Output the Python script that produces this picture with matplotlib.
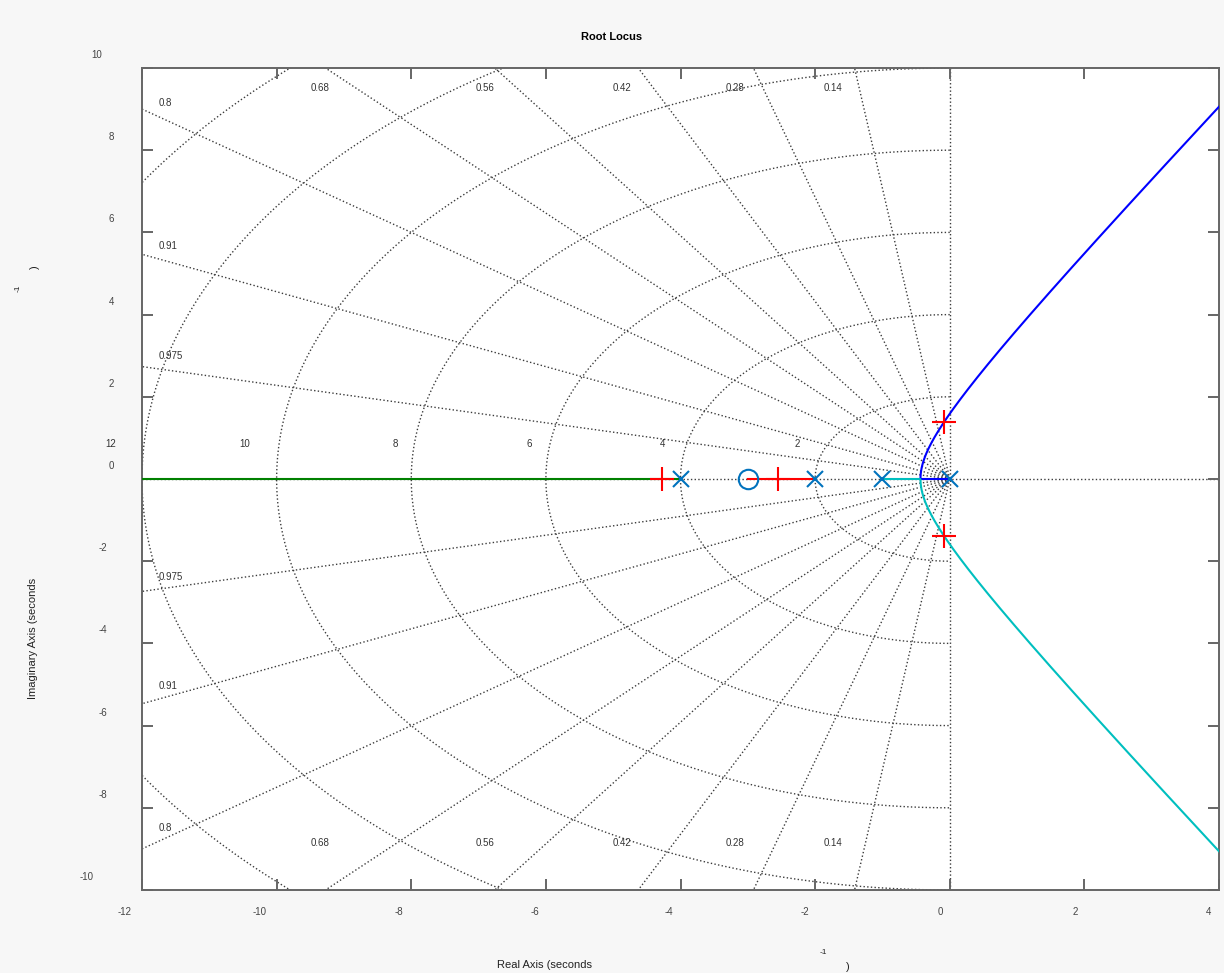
import numpy as np
import matplotlib
matplotlib.use("Agg")
import matplotlib.pyplot as plt
from matplotlib.transforms import ScaledTranslation

plt.rcParams['font.family'] = ['Liberation Sans', 'DejaVu Sans']

# open-loop system G(s) = (s+3) / (s (s+1) (s+2) (s+4))
poles = [0.0, -1.0, -2.0, -4.0]
zeros = [-3.0]
k_marked = 7.0   # gain shown with the red crosses

# s-plane grid
zeta_vals = [0.14, 0.28, 0.42, 0.56, 0.68, 0.8, 0.91, 0.975]
wn_vals = [2, 4, 6, 8, 10, 12, 14]
wn_label_pos = [(-2.27, 2), (-4.26, 4), (-6.25, 6), (-8.24, 8), (-10.48, 10), (-12.46, 12)]
zeta_top = [(-9.36, "0.68"), (-6.90, "0.56"), (-4.87, "0.42"), (-3.19, "0.28"), (-1.73, "0.14")]
zeta_left_up = [(9.15, "0.8"), (5.67, "0.91"), (2.99, "0.975")]
zeta_left_dn = [(-8.49, "0.8"), (-5.04, "0.91"), (-2.38, "0.975")]

xticks = [-12, -10, -8, -6, -4, -2, 0, 2, 4]
xtick_dx = [-17, -17, -12, -11, -12, -10, -9, -9, -10]
yticks = [-10, -8, -6, -4, -2, 0, 2, 4, 6, 8, 10]
ytick_cx = [87, 103, 103, 103, 103, 111.5, 111.5, 111.5, 111.5, 111.5, 97]

branch_colors = ['#0000ff', '#00bfbf', '#ff0000', '#008000']


def char_poly(k):
    den = np.poly(poles)
    num = np.poly(zeros)
    num = np.concatenate([np.zeros(len(den) - len(num)), num])
    return den + k * num


def branches_at(k):
    r = np.roots(char_poly(k))
    cplx = r[np.abs(r.imag) > 1e-7]
    real = np.sort(r[np.abs(r.imag) <= 1e-7].real)[::-1]
    if len(cplx) == 0:
        return [complex(v) for v in real]
    up = cplx[cplx.imag > 0][0]
    return [up, np.conj(up)] + [complex(v) for v in real]


gains = np.unique(np.concatenate([np.linspace(0, 1, 3000), np.logspace(0, 5, 4000)]))
locus = np.array([branches_at(k) for k in gains])

fig = plt.figure(figsize=(12.24, 9.73), dpi=100, facecolor='#f7f7f7')
ax = fig.add_axes([142 / 1224, 83 / 973, 1077 / 1224, 822 / 973])
ax.set_facecolor('white')
ax.set_xlim(-12, 4)
ax.set_ylim(-10, 10)

gkw = dict(color='#3c3c3c', linestyle=':', linewidth=1.0, zorder=1)
for z in zeta_vals:
    a = np.sqrt(1 - z ** 2)
    ax.plot([0, -40 * z], [0, 40 * a], **gkw)
    ax.plot([0, -40 * z], [0, -40 * a], **gkw)
ax.axhline(0, **gkw)
ax.axvline(0, **gkw)
th = np.linspace(np.pi / 2, 3 * np.pi / 2, 400)
for wn in wn_vals:
    ax.plot(wn * np.cos(th), wn * np.sin(th), **gkw)

lkw = dict(fontsize=7, color='#333333', ha='center', va='center', clip_on=False)
for x, w in wn_label_pos:
    ax.text(x, 0.85, str(w), **lkw)
for x, s in zeta_top:
    ax.text(x, 9.51, s, **lkw)
    ax.text(x, -8.86, s, **lkw)
for y, s in zeta_left_up + zeta_left_dn:
    ax.text(-11.76, y, s, fontsize=7, color='#333333', ha='left', va='center')

for i, c in enumerate(branch_colors):
    ax.plot(locus[:, i].real, locus[:, i].imag, color=c, linewidth=1.5, zorder=3)

ax.plot(poles, np.zeros(len(poles)), linestyle='none', marker='x', markersize=12,
        markeredgewidth=1.5, color='#0072bd', zorder=4)
ax.plot(zeros, np.zeros(len(zeros)), linestyle='none', marker='o', markersize=14,
        markerfacecolor='none', markeredgewidth=1.5, color='#0072bd', zorder=4)
cl = np.roots(char_poly(k_marked))
ax.plot(cl.real, cl.imag, linestyle='none', marker='+', markersize=17,
        markeredgewidth=1.5, color='#ff0000', zorder=5)

for sp in ax.spines.values():
    sp.set_color('#666666')
    sp.set_linewidth(1.4)
ax.tick_params(direction='in', length=8, width=1.4, color='#666666',
               top=True, right=True, labelsize=7, labelcolor='#444444')
ax.set_xticks(xticks)
ax.set_xticklabels([str(v) for v in xticks])
ax.set_yticks(yticks)
ax.set_yticklabels([str(v) for v in yticks])
ax.tick_params(axis='x', pad=15.8)
ax.tick_params(axis='y', pad=0)
for lab, dx in zip(ax.get_xticklabels(), xtick_dx):
    lab.set_va('center')
    lab.set_transform(lab.get_transform() + ScaledTranslation(dx / 100, 0, fig.dpi_scale_trans))
for lab, cx in zip(ax.get_yticklabels(), ytick_cx):
    lab.set_ha('center')
    lab.set_transform(lab.get_transform() + ScaledTranslation((cx - 142) / 100, 14 / 100, fig.dpi_scale_trans))

fig.text(612 / 1224, 1 - 37 / 973, "Root Locus", fontsize=8, fontweight='bold', ha='center', va='center')
fig.text(497 / 1224, 1 - 965 / 973, "Real Axis (seconds", fontsize=8, ha='left', va='center', color='#222222')
fig.text(823 / 1224, 1 - 952 / 973, "-1", fontsize=6, ha='center', va='center', color='#222222')
fig.text(848 / 1224, 1 - 967 / 973, ")", fontsize=8, ha='center', va='center', color='#222222')
fig.text(33 / 1224, 1 - 638 / 973, "Imaginary Axis (seconds", fontsize=8, rotation=90,
         ha='center', va='center', color='#222222')
fig.text(18 / 1224, 1 - 288 / 973, "-1", fontsize=6, rotation=90, ha='center', va='center', color='#222222')
fig.text(35 / 1224, 1 - 267 / 973, ")", fontsize=8, rotation=90, ha='center', va='center', color='#222222')

fig.savefig("out.png", dpi=100, facecolor=fig.get_facecolor())
